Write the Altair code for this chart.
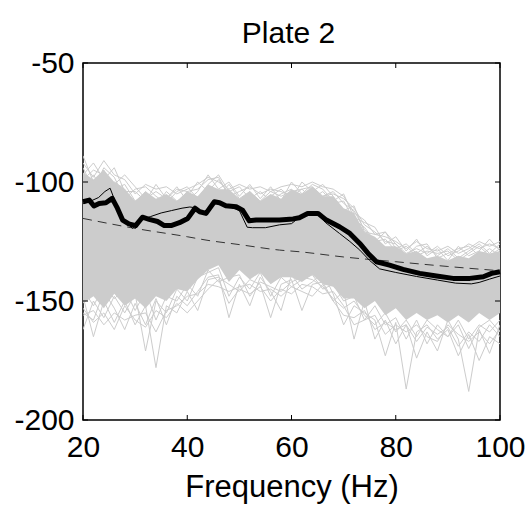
import altair as alt
import pandas as pd

FONT = "Liberation Sans"
GRAY = "#cccccc"

# even frequency grid (Hz) used by the gray band and gray traces
freq_even = list(range(20, 101, 2))

# dense gray core of the trace bundle (dB)
core_hi = [-96, -99, -95, -100, -103, -108, -104, -107, -105, -108, -104, -106, -101, -103, -103,
           -107, -104, -108, -105, -107, -103, -105, -102, -106, -106, -111, -113, -121, -123, -127,
           -127, -130, -129, -132, -131, -133, -131, -132, -129, -130, -129]
core_lo = [-151, -148, -153, -147, -152, -149, -153, -148, -150, -145, -146, -141, -137, -135, -142,
           -137, -141, -138, -143, -140, -140, -142, -139, -143, -144, -149, -149, -153, -150, -156,
           -153, -158, -155, -158, -156, -159, -156, -159, -155, -158, -155]

# individual gray traces on the fringes of the bundle (dB)
trace_u1 = [-89, -100, -95, -103, -101, -108, -105, -110, -104, -108, -106, -100, -104, -99, -105,
            -108, -104, -109, -106, -103, -107, -100, -104, -106, -104, -109, -112, -120, -125, -121,
            -128, -126, -130, -127, -131, -128, -132, -129, -126, -130, -126]
trace_u2 = [-97, -92, -99, -94, -104, -104, -108, -101, -107, -102, -108, -104, -97, -103, -100,
            -106, -101, -107, -102, -108, -100, -105, -101, -103, -108, -105, -115, -117, -119, -126,
            -123, -129, -124, -131, -128, -133, -127, -131, -129, -124, -129]
trace_u3 = [-94, -103, -94, -98, -107, -103, -102, -106, -109, -104, -102, -107, -101, -97, -104,
            -102, -107, -104, -108, -105, -103, -108, -104, -101, -106, -112, -110, -121, -122, -121,
            -126, -131, -127, -126, -132, -130, -128, -127, -131, -128, -131]
trace_u4 = [-103, -97, -104, -100, -103, -109, -104, -108, -106, -109, -104, -109, -103, -106, -101,
            -107, -104, -108, -104, -106, -104, -103, -107, -104, -109, -108, -116, -119, -125, -124,
            -129, -127, -131, -129, -130, -129, -133, -130, -127, -131, -128]
trace_u5 = [-92, -98, -91, -97, -99, -105, -101, -103, -102, -105, -103, -101, -98, -100, -103,
            -101, -103, -102, -104, -102, -101, -102, -100, -102, -103, -106, -113, -116, -122, -123,
            -125, -128, -125, -128, -129, -127, -130, -128, -125, -127, -125]
trace_u6 = [-99, -95, -97, -101, -97, -102, -107, -104, -107, -103, -104, -103, -99, -98, -106,
            -104, -102, -105, -103, -104, -106, -103, -102, -106, -105, -107, -111, -118, -121, -125,
            -126, -130, -128, -130, -127, -131, -129, -126, -128, -126, -128]
trace_l1 = [-162, -150, -157, -148, -155, -147, -171, -150, -155, -145, -150, -140, -138, -136, -148,
            -140, -145, -138, -148, -140, -144, -141, -139, -145, -143, -150, -148, -158, -152, -160,
            -157, -166, -158, -168, -160, -165, -158, -166, -160, -163, -158]
trace_l2 = [-148, -165, -150, -159, -150, -160, -152, -178, -152, -155, -146, -154, -141, -140, -143,
            -146, -141, -143, -157, -143, -141, -154, -143, -142, -150, -146, -166, -150, -166, -158,
            -168, -160, -174, -163, -171, -158, -166, -188, -162, -172, -160]
trace_l3 = [-155, -158, -146, -153, -162, -151, -160, -149, -160, -148, -152, -146, -140, -139, -157,
            -143, -152, -140, -146, -154, -139, -145, -142, -138, -147, -160, -152, -155, -158, -173,
            -159, -187, -163, -160, -166, -162, -173, -164, -175, -165, -168]
trace_l4 = [-145, -152, -144, -149, -145, -154, -146, -158, -148, -150, -143, -148, -137, -142, -140,
            -139, -148, -142, -144, -146, -142, -140, -141, -144, -149, -153, -150, -156, -160, -155,
            -163, -158, -165, -158, -162, -165, -160, -170, -161, -158, -163]
trace_l5 = [-156, -154, -160, -155, -158, -156, -155, -163, -154, -152, -148, -147, -143, -144, -146,
            -144, -143, -146, -145, -148, -144, -146, -148, -143, -150, -156, -157, -154, -162, -159,
            -162, -160, -167, -161, -164, -161, -169, -163, -167, -160, -165]
trace_l6 = [-153, -159, -155, -162, -152, -158, -161, -154, -157, -151, -155, -150, -145, -141, -151,
            -145, -147, -144, -150, -145, -147, -143, -144, -147, -146, -152, -160, -158, -156, -164,
            -160, -163, -160, -165, -167, -160, -164, -167, -163, -168, -162]

# thick black trace
thick_f = [20, 21.2, 22.1, 23.1, 24.4, 25.6, 26.6, 27.6, 28.8, 30.1, 31.4, 32.7, 34.3, 35.6, 36.9,
           38.5, 40.1, 41.5, 42.4, 43.6, 45.2, 46.2, 47.4, 49.4, 50.6, 51.9, 53.2, 55.1, 57.7, 60.3,
           61.5, 63.1, 65.1, 66.7, 69.2, 71.2, 73.1, 74.7, 76.3, 78.8, 81.4, 84.6, 87.8, 91.0, 94.2,
           96.8, 98.4, 100]
thick_v = [-108.3, -107.6, -110.1, -109.0, -108.7, -106.9, -111.0, -116.0, -117.6, -118.3, -114.8,
           -115.7, -116.6, -118.3, -118.3, -117.1, -115.3, -111.0, -112.5, -113.2, -108.3, -108.7,
           -110.0, -110.4, -111.8, -116.3, -116.0, -116.0, -116.0, -115.5, -115.0, -113.2, -113.2,
           -116.0, -118.8, -121.6, -125.8, -130.0, -133.5, -134.9, -136.7, -138.4, -139.5, -140.5,
           -140.5, -139.8, -138.4, -137.7]

# thin black trace
thin_f = [20, 21.5, 23, 24.2, 25.2, 26.5, 27.8, 29.5, 31, 33, 35, 37, 39, 40.5, 41.5, 42.5, 43.6,
          45.2, 46.5, 48, 50, 51.5, 52.5, 55, 57.7, 60, 62, 63.1, 65.1, 66.5, 69.2, 71.2, 73.1, 75,
          76.9, 80, 84, 88, 91.5, 94.5, 96, 98, 100]
thin_v = [-109, -108, -106.5, -104, -102.6, -110, -116, -119.5, -116, -114.5, -113, -112, -111,
          -110.5, -110.8, -112.5, -113, -108.3, -109, -110.3, -112, -119, -119.2, -119.2, -118,
          -117.5, -114, -113.2, -113.5, -117, -121.6, -125, -128.6, -133, -136.5, -138, -139.7,
          -141.2, -142.5, -142.8, -142.2, -140.8, -139.5]

# dashed reference curve
dash_f = [20, 30, 40, 43.6, 50, 57.7, 61.5, 70, 80, 90, 100]
dash_v = [-115.3, -119.5, -123, -124.4, -126.3, -128.6, -129.3, -131.5, -133.5, -135.5, -137.3]

x_ticks = [20, 40, 60, 80, 100]
y_ticks = [-200, -150, -100, -50]

W, H = 417, 357

band = pd.DataFrame({"f": freq_even, "hi": core_hi, "lo": core_lo})
traces = {"u1": trace_u1, "u2": trace_u2, "u3": trace_u3, "u4": trace_u4, "u5": trace_u5,
          "u6": trace_u6, "l1": trace_l1, "l2": trace_l2, "l3": trace_l3, "l4": trace_l4,
          "l5": trace_l5, "l6": trace_l6}
gray = pd.DataFrame([{"f": f, "v": v, "s": k} for k, vals in traces.items()
                     for f, v in zip(freq_even, vals)])
thick = pd.DataFrame({"f": thick_f, "v": thick_v})
thin = pd.DataFrame({"f": thin_f, "v": thin_v})
dash = pd.DataFrame({"f": dash_f, "v": dash_v})
xt = pd.DataFrame({"t": x_ticks})
yt = pd.DataFrame({"t": y_ticks})

xscale = alt.Scale(domain=[20, 100], nice=False, zero=False)
yscale = alt.Scale(domain=[-200, -50], nice=False, zero=False)

xaxis = alt.Axis(values=x_ticks, title="Frequency (Hz)", ticks=False, domain=False, grid=False,
                 labelFontSize=30, labelFont=FONT, labelColor="black", labelPadding=12,
                 labelFlush=False, labelOverlap=False, labelExpr="'' + datum.value",
                 titleFont=FONT, titleFontSize=31, titleFontWeight="normal", titleColor="black",
                 titlePadding=10)
yaxis = alt.Axis(values=y_ticks, title=None, ticks=False, domain=False, grid=False,
                 labelFontSize=30, labelFont=FONT, labelColor="black", labelPadding=9,
                 labelFlush=False, labelOverlap=False, labelExpr="'' + datum.value")

X = alt.X("f:Q", scale=xscale, axis=xaxis)
Y = alt.Y("v:Q", scale=yscale, axis=yaxis)

area = alt.Chart(band).mark_area(color=GRAY, opacity=1).encode(
    x=X, y=alt.Y("hi:Q", scale=yscale, axis=yaxis), y2="lo:Q")
grays = alt.Chart(gray).mark_line(color=GRAY, strokeWidth=1, clip=True).encode(
    x=X, y=Y, detail="s:N")
dashed = alt.Chart(dash).mark_line(color="#333333", strokeWidth=1, strokeDash=[9, 6],
                                   interpolate="monotone").encode(x=X, y=Y)
thinl = alt.Chart(thin).mark_line(color="black", strokeWidth=1).encode(x=X, y=Y)
thickl = alt.Chart(thick).mark_line(color="black", strokeWidth=5, strokeJoin="round").encode(x=X, y=Y)

tx = alt.X("t:Q", scale=xscale, axis=xaxis)
ty = alt.Y("t:Q", scale=yscale, axis=yaxis)
tick_b = alt.Chart(xt).mark_rule(color="black", strokeWidth=1).encode(
    x=tx, y=alt.value(H - 5), y2=alt.value(H))
tick_t = alt.Chart(xt).mark_rule(color="black", strokeWidth=1).encode(
    x=tx, y=alt.value(0), y2=alt.value(5))
tick_l = alt.Chart(yt).mark_rule(color="black", strokeWidth=1).encode(
    y=ty, x=alt.value(0), x2=alt.value(5))
tick_r = alt.Chart(yt).mark_rule(color="black", strokeWidth=1).encode(
    y=ty, x=alt.value(W - 5), x2=alt.value(W))

chart = alt.layer(area, grays, dashed, thinl, thickl, tick_b, tick_t, tick_l, tick_r).properties(
    width=W, height=H,
    title=alt.TitleParams("Plate 2", font=FONT, fontSize=30, fontWeight="normal", color="black",
                          anchor="middle", offset=17, baseline="alphabetic", dy=42, dx=-3),
    autosize=alt.AutoSizeParams(type="none"),
    padding={"left": 83, "top": 63, "right": 31, "bottom": 88},
).configure(background="white").configure_view(stroke="black", strokeWidth=1.5)

chart.save("out.html", embed_options={"renderer": "svg", "actions": False})
